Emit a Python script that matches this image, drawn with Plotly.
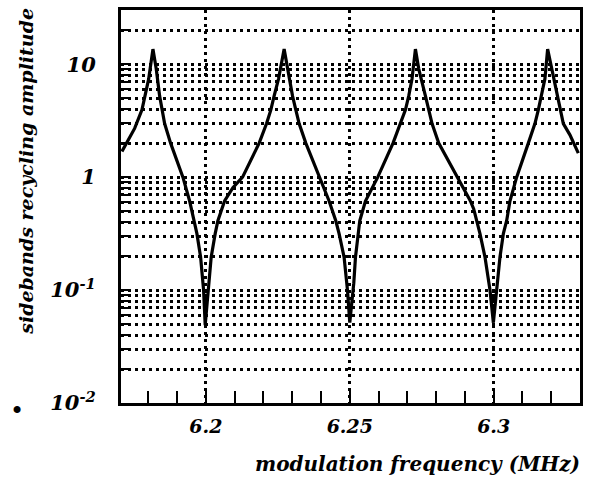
import plotly.graph_objects as go

# ---- data ----
freq_mhz = [6.17083, 6.17524, 6.17778, 6.17892, 6.18010, 6.18160, 6.18274, 6.18392, 6.18472, 6.18566,
            6.18774, 6.19201, 6.19434, 6.19583, 6.19688, 6.19816, 6.19920, 6.19976, 6.20069, 6.20184,
            6.20323, 6.20417, 6.20649, 6.20938, 6.21274, 6.21851, 6.22108, 6.22257, 6.22372,
            6.22524, 6.22719, 6.22837, 6.23010, 6.23125, 6.23240, 6.23472, 6.23934, 6.24281, 6.24514,
            6.24628, 6.24802, 6.24920, 6.25000, 6.25139, 6.25198, 6.25278, 6.25347, 6.25545, 6.25774,
            6.25972, 6.26503, 6.26760, 6.26934, 6.27049, 6.27163, 6.27281, 6.27396, 6.27628, 6.27743,
            6.27858, 6.28090, 6.28726, 6.29191, 6.29306, 6.29410, 6.29524, 6.29698, 6.29872, 6.29990,
            6.30104, 6.30219, 6.30337, 6.30451, 6.30566, 6.30799, 6.31205, 6.31434, 6.31552, 6.31667,
            6.31781, 6.31875, 6.32014, 6.32222, 6.32420, 6.32649, 6.32941]
amplitude = [1.69, 2.70, 3.94, 5.24, 7.38, 13.6, 9.1, 5.24, 3.94, 2.98,
             2.00, 1.00, 0.615, 0.411, 0.316, 0.196, 0.100, 0.049, 0.100, 0.196,
             0.316, 0.411, 0.615, 0.806, 1.00, 2.00, 2.98, 3.94, 5.24,
             7.43, 13.6, 9.1, 5.24, 3.94, 2.98, 2.00, 1.00, 0.615, 0.411,
             0.316, 0.196, 0.100, 0.0514, 0.115, 0.196, 0.316, 0.411, 0.615, 0.806,
             1.00, 2.00, 2.98, 3.94, 5.24, 7.43, 13.6, 9.1, 5.24, 3.94,
             2.98, 2.00, 1.00, 0.615, 0.523, 0.411, 0.316, 0.196, 0.100, 0.0514,
             0.100, 0.196, 0.316, 0.411, 0.615, 1.00, 2.00, 2.98, 3.94, 5.24,
             7.43, 13.6, 9.1, 5.24, 2.98, 2.37, 1.63]

x_tick_vals = [6.2, 6.25, 6.3]
x_tick_text = ["6.2", "6.25", "6.3"]
x_minor_vals = [6.18, 6.19, 6.21, 6.22, 6.23, 6.24, 6.26, 6.27, 6.28, 6.29, 6.31, 6.32]
y_tick_vals = [0.01, 0.1, 1, 10]
y_tick_text = ["10<sup>-2</sup>", "10<sup>-1</sup>", "1", "10"]
y_minor_vals = [m * d for d in (0.01, 0.1, 1) for m in (2, 3, 4, 5, 6, 7, 8, 9)] + [20]

FONT = "DejaVu Serif"
W, H = 593, 482
ML, MR, MT, MB = 121, 13, 7, 79
GRID_DASH = "3px,4px"

fig = go.Figure()
fig.add_trace(go.Scatter(x=freq_mhz, y=amplitude, mode="lines",
                         line=dict(color="black", width=3.2), showlegend=False,
                         hoverinfo="skip"))

fig.update_layout(
    width=W, height=H,
    margin=dict(l=ML, r=MR, t=MT, b=MB, pad=0),
    paper_bgcolor="white", plot_bgcolor="white",
    xaxis=dict(
        range=[6.1705, 6.33], tickmode="array", tickvals=x_tick_vals, ticktext=x_tick_text,
        ticks="inside", ticklen=12, tickwidth=2, tickcolor="black",
        showgrid=True, gridcolor="black", gridwidth=2.5, griddash=GRID_DASH,
        showline=True, linecolor="black", linewidth=3, mirror=True, zeroline=False,
        tickfont=dict(family=FONT, size=19, color="black", weight="bold", style="italic"),
        ticklabelstandoff=4,
        minor=dict(tickvals=x_minor_vals, ticks="inside", ticklen=12, tickwidth=2,
                   tickcolor="black", showgrid=False),
    ),
    yaxis=dict(
        type="log", range=[-2, 1.48], tickmode="array", tickvals=y_tick_vals, ticktext=y_tick_text,
        ticks="inside", ticklen=10, tickwidth=2, tickcolor="black",
        showgrid=True, gridcolor="black", gridwidth=2.5, griddash=GRID_DASH,
        showline=True, linecolor="black", linewidth=3, mirror=True, zeroline=False,
        tickfont=dict(family=FONT, size=21, color="black", weight="bold", style="italic"),
        ticklabelstandoff=18,
        minor=dict(tickvals=y_minor_vals, ticks="inside", ticklen=10, tickwidth=2,
                   tickcolor="black", showgrid=True, gridcolor="black", gridwidth=2.5,
                   griddash=GRID_DASH),
    ),
)

fig.add_annotation(text="modulation frequency (MHz)", xref="paper", yref="paper",
                   x=1.005, y=-(464 - (H - MB)) / (H - MT - MB), xanchor="right", yanchor="middle",
                   showarrow=False,
                   font=dict(family=FONT, size=20, color="black", weight="bold", style="italic"))
fig.add_annotation(text="sidebands recycling amplitude", xref="paper", yref="paper",
                   x=(26 - ML) / (W - ML - MR), y=((H - MB) - 170) / (H - MT - MB),
                   xanchor="center", yanchor="middle", textangle=-90, showarrow=False,
                   font=dict(family=FONT, size=19, color="black", weight="bold", style="italic"))
fig.add_annotation(text="•", xref="paper", yref="paper",
                   x=(17 - ML) / (W - ML - MR), y=((H - MB) - 411) / (H - MT - MB),
                   xanchor="center", yanchor="middle", showarrow=False,
                   font=dict(family=FONT, size=24, color="black"))

fig.write_html("out.html")
